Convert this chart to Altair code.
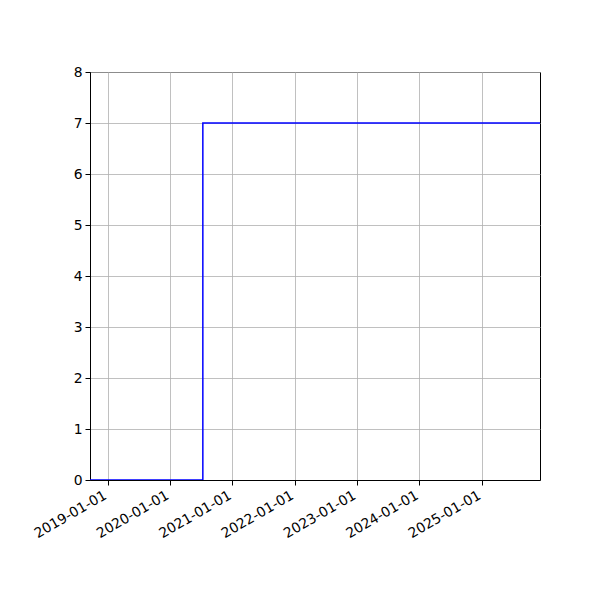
import altair as alt
import pandas as pd

# step series: value jumps from 0 to 7 in mid 2020
dates = ["2018-09-20", "2020-07-12", "2025-12-08"]
values = [0, 7, 7]
tick_years = [2019, 2020, 2021, 2022, 2023, 2024, 2025]
y_ticks = [0, 1, 2, 3, 4, 5, 6, 7, 8]

df = pd.DataFrame({"date": dates, "value": values})

x_ticks = [alt.DateTime(year=y, month=1, date=1, utc=True) for y in tick_years]

chart = alt.Chart(df).mark_line(
    interpolate="step-after", color="blue", strokeWidth=1.5, clip=True
).encode(
    x=alt.X("date:T",
            scale=alt.Scale(type="utc", nice=False, padding=0),
            axis=alt.Axis(values=x_ticks,
                          labelExpr="utcFormat(datum.value, '%Y-%m-%d')",
                          labelAngle=-30, labelAlign="right", labelBaseline="top",
                          labelOverlap=False, labelFlush=False, labelBound=False,
                          labelOffset=-6, title=None)),
    y=alt.Y("value:Q",
            scale=alt.Scale(domain=[0, 8], nice=False, zero=True),
            axis=alt.Axis(values=y_ticks, title=None)),
).properties(
    width=450, height=408,
    autosize=alt.AutoSizeParams(type="none"),
    padding={"left": 82, "top": 64, "right": 52, "bottom": 112},
).configure_view(
    stroke="black", strokeWidth=1
).configure_axis(
    grid=True, gridColor="#b0b0b0", gridWidth=0.8,
    domainColor="black", domainWidth=1,
    tickColor="black", tickSize=5, tickWidth=1,
    labelColor="black", labelFont="DejaVu Sans", labelFontSize=13.9,
    labelPadding=3,
)

chart.save("out.html", embed_options={"renderer": "svg", "actions": False})
